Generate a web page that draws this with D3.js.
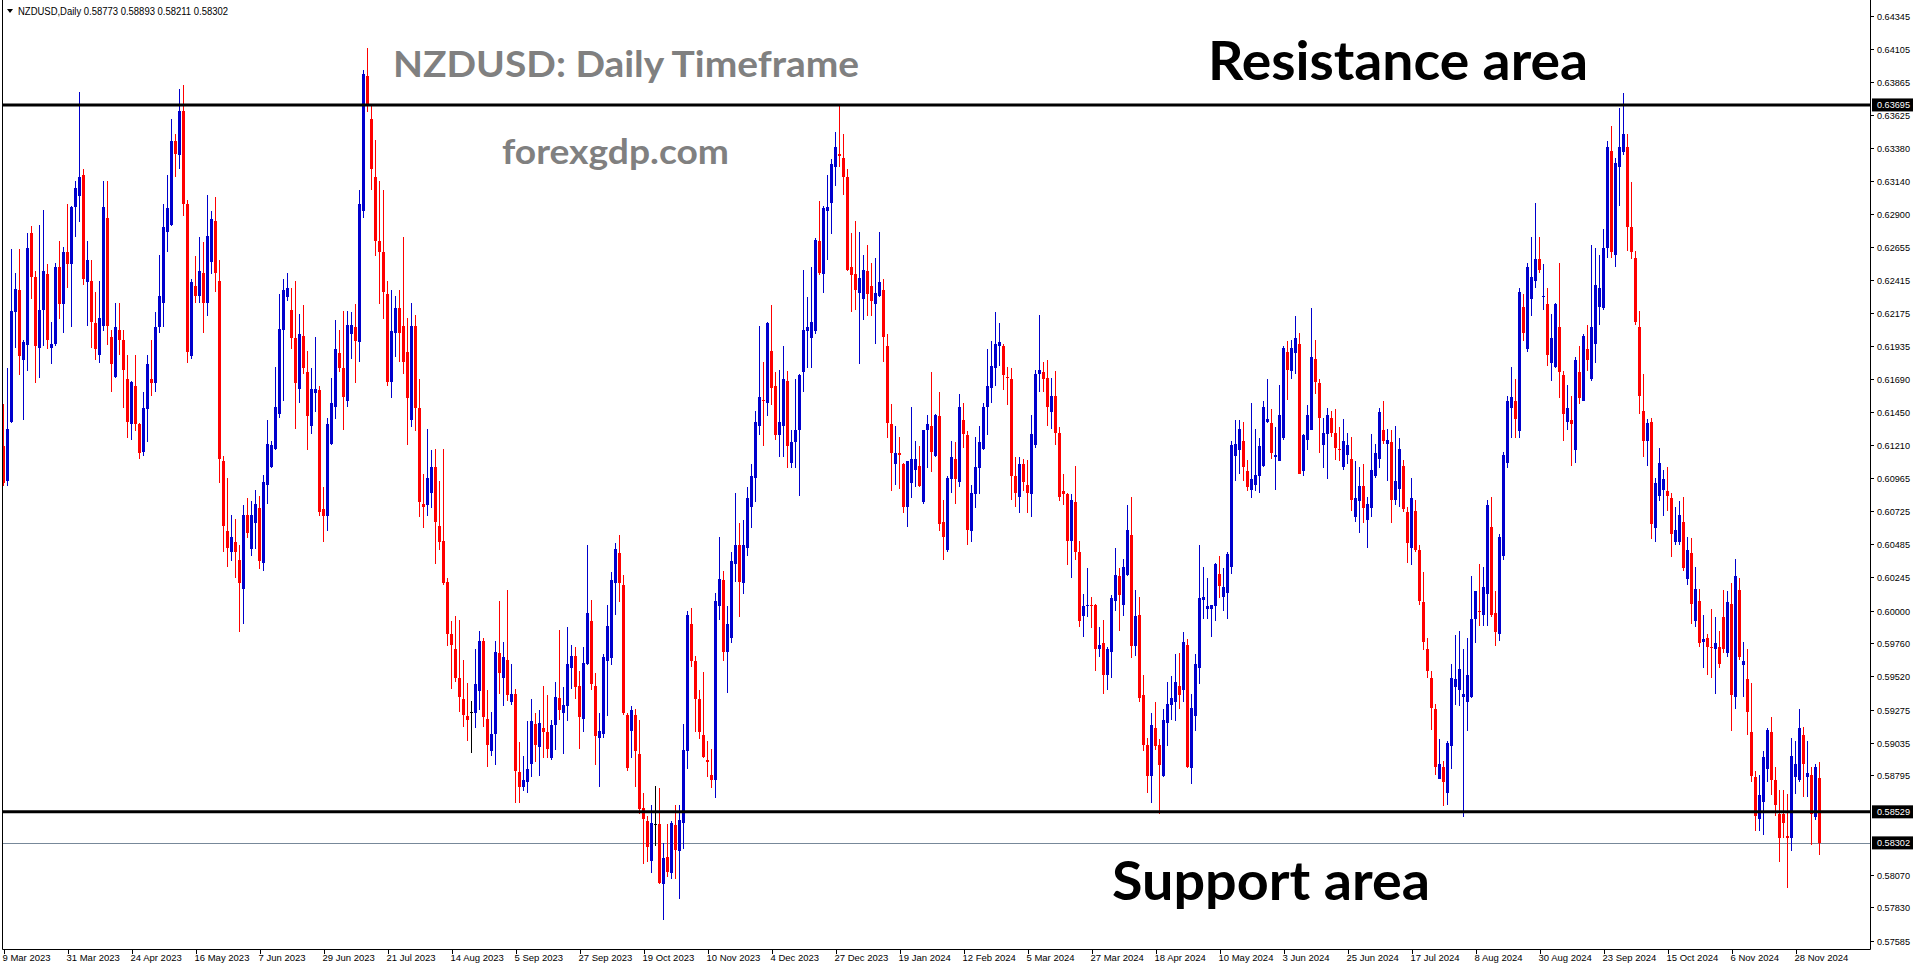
<!DOCTYPE html>
<html><head><meta charset="utf-8">
<script src="https://cdn.jsdelivr.net/npm/d3@7"></script>
<style>
html,body{margin:0;padding:0;background:#fff;overflow:hidden}
svg{display:block}
</style></head><body>
<svg id="c" width="1916" height="964"></svg>
<script>
// ---------------- DATA ----------------
const symbolText = "NZDUSD,Daily";
const lastQuote = [0.58773, 0.58893, 0.58211, 0.58302];
const titleText = "NZDUSD: Daily Timeframe";
const siteText = "forexgdp.com";
const resistanceText = "Resistance area";
const supportText = "Support area";

const opens = [.6120,.6095,.6138,.6218,.6234,.6183,.6194,.6276,.6244,.6192,
.6220,.6246,.6192,.6195,.6251,.6224,.6262,.6253,.6295,.6303,
.6318,.6240,.6241,.6210,.6187,.6208,.6287,.6200,.6171,.6205,
.6198,.6169,.6136,.6164,.6136,.6116,.6147,.6169,.6166,.6207,
.6225,.6277,.6282,.6343,.6333,.6365,.6297,.6186,.6237,.6230,
.6247,.6225,.6255,.6285,.6241,.6109,.6058,.6043,.6050,.6037,
.6016,.6070,.6045,.6064,.6075,.6035,.6092,.6105,.6118,.6144,
.6205,.6229,.6220,.6199,.6162,.6201,.6174,.6135,.6159,.6161,
.6074,.6069,.6122,.6149,.6188,.6177,.6153,.6202,.6207,.6196,
.6292,.6391,.6359,.6317,.6270,.6262,.6231,.6167,.6203,.6221,
.6208,.6189,.6139,.6208,.6148,.6078,.6077,.6086,.6105,.6062,
.6051,.6021,.5983,.5972,.5951,.5935,.5923,.5926,.5925,.5941,
.5978,.5921,.5897,.5910,.5969,.5951,.5964,.5933,.5939,.5882,
.5871,.5875,.5888,.5917,.5900,.5914,.5911,.5892,.5916,.5936,
.5925,.5930,.5958,.5967,.5945,.5921,.5961,.5992,.5945,.5907,
.5910,.5963,.5965,.6020,.6042,.6019,.5924,.5912,.5924,.5895,
.5856,.5846,.5817,.5844,.5844,.5800,.5820,.5808,.5843,.5824,
.5845,.5897,.5990,.5963,.5935,.5909,.5891,.5880,.5876,.6003,
.6022,.5970,.5980,.6034,.6048,.6020,.6046,.6076,.6097,.6135,
.6154,.6152,.6190,.6164,.6128,.6135,.6168,.6108,.6123,.6132,
.6174,.6204,.6199,.6204,.6270,.6246,.6292,.6298,.6324,.6334,
.6331,.6317,.6251,.6246,.6232,.6228,.6248,.6237,.6224,.6230,
.6234,.6193,.6136,.6107,.6115,.6107,.6076,.6093,.6103,.6106,
.6079,.6132,.6135,.6113,.6142,.6065,.6044,.6096,.6111,.6094,
.6139,.6128,.6058,.6085,.6104,.6118,.6149,.6163,.6177,.6193,
.6193,.6171,.6169,.6098,.6083,.6107,.6092,.6085,.6121,.6173,
.6174,.6170,.6145,.6157,.6130,.6087,.6085,.6051,.6079,.6043,
.5996,.6003,.60044,.6004,.5972,.5976,.5953,.5970,.6007,.6025,
.6004,.6026,.6055,.5974,.5997,.5938,.5902,.5879,.5914,.5902,
.5879,.5918,.5931,.5933,.5945,.5942,.5975,.5885,.5923,.5958,
.6008,.6001,.6001,.6003,.6027,.6010,.6013,.6032,.6113,.6117,
.6124,.6102,.6088,.6092,.6098,.6106,.6138,.6137,.6112,.6109,
.6126,.6189,.6175,.6188,.6195,.6102,.6125,.6132,.6184,.6166,
.6121,.6129,.6141,.6130,.6118,.6105,.6114,.6111,.6068,.6080,
.6091,.6066,.6075,.6098,.6111,.6132,.6122,.6123,.6081,.6089,
.6106,.6072,.6046,.6073,.6044,.6006,.5972,.5951,.5928,.5877,
.5886,.5867,.5901,.5944,.5942,.5937,.5933,.5937,.5994,.6000,
.5997,.6012,.6061,.5998,.5983,.6040,.6108,.6148,.6153,.6131,
.6222,.6191,.6228,.6241,.6257,.62295,.6224,.6181,.6178,.6207,
.6172,.6138,.6139,.6117,.6174,.6153,.6191,.6169,.6195,.6222,
.6221,.6265,.6336,.6260,.6324,.6335,.6339,.6280,.6258,.6207,
.6146,.6124,.6138,.6060,.6084,.6088,.6087,.6082,.6050,.6050,
.6065,.6023,.6042,.5992,.6007,.5977,.5980,.59732,.5972,.5973,
.5995,.5969,.6005,.5937,.6015,.5960,.5950,.5911,.5878,.5848,
.5860,.5884,.5911,.5876,.5851,.5851,.5835,.5834,.5878,.5876,
.5909,.5878,.5880,.5849,.58773];

const highs = [.6151,.6177,.6264,.6247,.6264,.6198,.6276,.6281,.6248,.6282,
.6293,.6253,.6211,.6254,.6270,.6266,.6297,.6296,.6314,.6379,
.6323,.6270,.6256,.6233,.6241,.6314,.6314,.6205,.6225,.6225,
.6205,.6187,.6168,.6187,.6137,.6160,.6187,.6198,.6218,.6260,
.6297,.6318,.6359,.6348,.6381,.6384,.6300,.6242,.6259,.6273,
.6269,.6304,.6292,.6302,.6256,.6113,.6097,.6070,.6067,.6048,
.6077,.6082,.6080,.6088,.6084,.6099,.6139,.6124,.6178,.6231,
.6242,.6247,.6236,.6241,.6217,.6223,.6190,.6177,.6200,.6164,
.6090,.6141,.6170,.6212,.6205,.6219,.6219,.6218,.6224,.6307,
.6395,.6411,.6369,.6344,.6314,.6307,.6241,.6234,.6230,.6234,
.6273,.6214,.6225,.6216,.6169,.6100,.6133,.6117,.6118,.6095,
.6118,.6024,.5992,.5996,.5993,.5964,.5947,.5934,.5972,.5985,
.5980,.5942,.5926,.5978,.6007,.5977,.6015,.5961,.5943,.5904,
.5894,.5919,.5935,.5925,.5927,.5945,.5938,.5920,.5948,.5986,
.5944,.5988,.5975,.5973,.5956,.5973,.6048,.6008,.5954,.5925,
.5968,.6004,.6028,.6049,.6055,.6026,.5925,.5930,.5928,.5920,
.5867,.5850,.5858,.5872,.5870,.5830,.5844,.5846,.5858,.5858,
.5917,.6000,.6002,.5967,.5942,.5955,.5905,.5899,.6013,.6054,
.6029,.6003,.6043,.6086,.6064,.6066,.6090,.6107,.6146,.6208,
.6182,.6211,.6223,.6174,.6176,.6193,.6175,.6132,.6169,.6173,
.6249,.6229,.6251,.6272,.6299,.6296,.6318,.6330,.6350,.6369,
.6348,.6323,.6276,.6285,.6277,.6260,.6267,.6254,.6258,.6277,
.6242,.6202,.6151,.6135,.6127,.6108,.6109,.6149,.6124,.6120,
.6132,.6143,.6174,.6144,.6160,.6081,.6098,.6124,.6123,.6158,
.6152,.6131,.6092,.6127,.6135,.6152,.6191,.6197,.6218,.6210,
.6195,.6178,.6177,.6112,.6112,.6111,.6110,.6143,.6176,.6216,
.6182,.6183,.6170,.6175,.6134,.6100,.6086,.6085,.6106,.6051,
.6012,.6031,.6010,.6005,.5988,.5993,.5973,.6011,.6046,.6031,
.6038,.6077,.6083,.6015,.6010,.5953,.5907,.5925,.5933,.5906,
.5928,.5948,.5952,.5968,.5969,.5984,.5979,.5939,.5968,.6048,
.6032,.6024,.60044,.6035,.6040,.6031,.6043,.6124,.6139,.6139,
.6138,.6110,.6152,.6133,.6126,.6153,.6169,.6147,.6134,.6165,
.6193,.6197,.6198,.6215,.6203,.6129,.6150,.6221,.6198,.6169,
.6141,.6148,.6146,.6147,.6134,.6140,.6130,.6127,.6109,.6105,
.6107,.6083,.6129,.6122,.6148,.6153,.6133,.6132,.6135,.6126,
.6110,.6076,.6097,.6081,.6048,.6028,.5980,.5956,.5932,.5906,
.5890,.5905,.5961,.5982,.5985,.5972,.5980,.6025,.6014,.6034,
.6032,.6081,.6083,.6014,.6056,.6116,.6157,.6178,.6169,.6236,
.6231,.6254,.6273,.6298,.6273,.6253,.6236,.6217,.6225,.6254,
.6175,.6165,.6157,.6185,.6193,.6202,.6209,.6267,.6265,.6260,
.6279,.6343,.6354,.6331,.6367,.6378,.6348,.6313,.6263,.6219,
.6173,.6140,.6141,.6097,.6119,.6103,.6105,.6086,.6076,.6080,
.6083,.6054,.6053,.6032,.6016,.5997,.5983,.6001,.5995,.5985,
.6015,.6014,.6020,.6038,.6024,.5977,.5972,.5947,.5883,.5880,
.5897,.5914,.5922,.5886,.5869,.5869,.5866,.5907,.5905,.5928,
.5915,.5905,.5886,.5888,.58893];

const lows = [.6091,.6091,.6137,.6192,.6172,.6139,.6175,.6228,.6166,.6170,
.6193,.6191,.6180,.6193,.6213,.6203,.6236,.6207,.6273,.6284,
.6238,.6208,.6192,.6183,.6181,.6204,.6194,.6160,.6170,.6187,
.6148,.6126,.6125,.6131,.6111,.6113,.6123,.6157,.6160,.6203,
.6207,.6262,.6281,.6317,.6323,.6288,.6181,.6184,.6225,.6225,
.6203,.6215,.6246,.6233,.6093,.6043,.6032,.6036,.6024,.5984,
.5990,.6053,.6040,.6045,.6030,.6029,.6078,.6104,.6117,.6141,
.6153,.6226,.6191,.6133,.6152,.6173,.6117,.6129,.6145,.6069,
.6050,.6058,.6121,.6140,.6174,.6132,.6149,.6184,.6166,.6182,
.6287,.6364,.6307,.6259,.6224,.6213,.6164,.6155,.6185,.6182,
.6173,.6121,.6134,.6131,.6068,.6060,.6069,.6075,.6034,.6044,
.6019,.5974,.5943,.5948,.5926,.5915,.5905,.5896,.5914,.5927,
.5915,.5886,.5894,.5887,.5939,.5930,.5934,.5931,.5859,.5859,
.5868,.5867,.5878,.5889,.5879,.5892,.5892,.5891,.5898,.5920,
.5895,.5919,.5943,.5935,.5899,.5911,.5960,.5942,.5887,.5871,
.5907,.5923,.5960,.5997,.6006,.5924,.5883,.5892,.5871,.5851,
.5815,.5816,.5808,.5828,.5800,.5774,.5805,.5804,.5804,.5789,
.5826,.5884,.5959,.5911,.5906,.5892,.5878,.5870,.5863,.5993,
.5963,.5940,.5976,.6021,.5995,.6012,.6040,.6060,.6079,.6128,
.6120,.6142,.6150,.6125,.6112,.6112,.6104,.6104,.6104,.6084,
.6160,.6177,.6177,.6202,.6245,.6232,.6256,.6275,.6310,.6324,
.6304,.6248,.6218,.6220,.6180,.6212,.6215,.6215,.6195,.6229,
.6182,.6126,.6087,.6092,.6089,.6071,.6061,.6082,.6090,.6090,
.6078,.6104,.6101,.6112,.6058,.6037,.6043,.6086,.6078,.6090,
.6119,.6048,.6050,.6075,.6085,.6117,.6128,.6152,.6164,.6179,
.6161,.6150,.6081,.6076,.6071,.6087,.6071,.6068,.6119,.6160,
.6160,.6135,.6133,.6121,.6080,.6077,.6033,.6024,.6037,.5988,
.5981,.5995,.5987,.5956,.5966,.5939,.5942,.5951,.6000,.5985,
.5996,.6025,.5965,.5967,.5933,.5897,.5867,.5859,.5898,.5851,
.5878,.5901,.5920,.5919,.5928,.5933,.5885,.5873,.5912,.5946,
.5994,.5994,.5981,.5992,.6009,.6000,.5994,.6027,.6095,.6100,
.6095,.6087,.6082,.6087,.6086,.6105,.6137,.6111,.6088,.6109,
.6125,.6154,.6169,.6173,.6100,.6098,.6117,.6132,.6158,.6115,
.6104,.6096,.6127,.6110,.6109,.6103,.6107,.6073,.6065,.6057,
.6064,.6046,.6068,.6097,.6104,.6122,.6095,.6064,.6077,.6076,
.6072,.6035,.6033,.6043,.6004,.5971,.5951,.5913,.5880,.5877,
.5857,.5858,.5884,.5931,.5930,.5849,.5912,.5936,.5976,.5989,
.5989,.5989,.5995,.5974,.5978,.6037,.6104,.6126,.6126,.6126,
.6197,.6189,.6215,.6236,.6247,.6220,.6179,.6168,.6177,.6155,
.6124,.6132,.6106,.6108,.6151,.6153,.6175,.6168,.6181,.6209,
.6220,.6258,.6258,.6251,.6296,.6333,.6263,.6257,.6209,.6144,
.6112,.6106,.6052,.6050,.6080,.6069,.6073,.6039,.6048,.6048,
.6029,.6019,.5990,.5988,.5973,.5958,.5953,.5951,.5939,.5958,
.5969,.5966,.5912,.5928,.5964,.5937,.5909,.5875,.5839,.5839,
.5836,.5875,.5865,.5850,.5816,.5834,.5797,.5824,.5866,.5875,
.5864,.5864,.5829,.5847,.58211];

const closes = [.6093,.6133,.6219,.6235,.6186,.6196,.6265,.6244,.6193,.6220,
.6248,.6198,.6195,.6251,.6224,.6262,.6253,.6295,.6309,.6317,
.6242,.6256,.6211,.6191,.6214,.6295,.6208,.6180,.6207,.6198,
.6176,.6138,.6167,.6136,.6115,.6148,.6180,.6166,.6207,.6230,
.6280,.6294,.6343,.6334,.6365,.6297,.6189,.6240,.6230,.6248,
.6225,.6274,.6286,.6247,.6111,.6062,.6046,.6054,.6043,.6020,
.6070,.6057,.6070,.6078,.6036,.6094,.6122,.6121,.6149,.6206,
.6234,.6236,.6199,.6166,.6202,.6177,.6142,.6162,.6162,.6072,
.6069,.6136,.6152,.6191,.6177,.6156,.6209,.6209,.6197,.6297,
.6392,.6369,.6323,.6270,.6262,.6233,.6167,.6204,.6221,.6203,
.6182,.6155,.6208,.6148,.6079,.6076,.6097,.6105,.6065,.6050,
.6020,.5983,.5975,.5951,.5937,.5924,.5920,.5926,.5946,.5978,
.5922,.5902,.5910,.5970,.5954,.5966,.5938,.5939,.5883,.5871,
.5876,.5884,.5919,.5902,.5918,.5911,.5899,.5916,.5937,.5927,
.5931,.5961,.5967,.5944,.5922,.5962,.5998,.5946,.5908,.5912,
.5966,.5989,.6022,.6045,.6020,.5925,.5885,.5927,.5897,.5855,
.5848,.5827,.5845,.5844,.5801,.5819,.5809,.5845,.5825,.5847,
.5898,.5997,.5963,.5935,.5911,.5893,.5889,.5876,.6007,.6023,
.5970,.5990,.6036,.6048,.6021,.6048,.6082,.6098,.6138,.6156,
.6153,.6210,.6163,.6128,.6138,.6169,.6120,.6123,.6132,.6172,
.6205,.6207,.6211,.6271,.6247,.6294,.6295,.6326,.6339,.6332,
.6317,.6249,.6245,.6234,.6243,.6249,.6231,.6226,.6232,.6240,
.6200,.6137,.6115,.6115,.6114,.6076,.6109,.6111,.6111,.6091,
.6132,.6136,.6116,.6143,.6063,.6054,.6097,.6112,.6096,.6149,
.6129,.6059,.6086,.6105,.6123,.6149,.6164,.6179,.6195,.6196,
.6172,.6170,.6098,.6086,.6107,.6094,.6086,.6129,.6173,.6176,
.6169,.6149,.6157,.6130,.6083,.6085,.6051,.6081,.6043,.5992,
.6003,.6004,.60037,.5972,.5975,.5953,.5972,.6009,.6026,.6011,
.6032,.6059,.5974,.5996,.5936,.5902,.5879,.5916,.5901,.5887,
.5920,.5932,.5936,.5948,.5938,.5977,.5886,.5929,.5961,.6009,
.6010,.6003,.60037,.6034,.6018,.6017,.6041,.6121,.6122,.6133,
.6105,.6090,.6096,.6099,.6120,.6149,.6140,.6115,.6114,.6143,
.6192,.6176,.6192,.6199,.6100,.6128,.6143,.6185,.6167,.6141,
.6130,.6143,.6130,.6119,.6117,.6124,.6121,.6081,.6082,.6091,
.6075,.6078,.6103,.6115,.6145,.6124,.6125,.6081,.6095,.6118,
.6074,.6049,.6082,.6044,.6007,.5977,.5956,.5929,.5886,.5888,
.5875,.5903,.5951,.5950,.5957,.5939,.5953,.5994,.6014,.5999,
.6017,.6077,.5997,.5984,.6054,.6114,.6153,.6156,.6140,.6233,
.6203,.6251,.6244,.6257,.6249,.6230,.6187,.6199,.6224,.6174,
.6144,.6148,.6136,.6183,.6155,.6201,.6183,.6207,.6238,.6236,
.6265,.6339,.6262,.6327,.6339,.6348,.6280,.6262,.6211,.6157,
.6124,.6137,.6063,.6093,.6108,.6096,.6084,.6056,.6059,.6070,
.6031,.6044,.6005,.6016,.5976,.5979,.5973,.59724,.5976,.5961,
.5972,.6006,.5938,.6025,.5966,.5963,.5926,.5879,.5850,.5865,
.5893,.5913,.5876,.5858,.5834,.5845,.5834,.5894,.5888,.5914,
.5888,.5881,.5851,.5886,.58302];

const dateLabels = ["9 Mar 2023","31 Mar 2023","24 Apr 2023","16 May 2023","7 Jun 2023","29 Jun 2023","21 Jul 2023","14 Aug 2023","5 Sep 2023","27 Sep 2023","19 Oct 2023","10 Nov 2023","4 Dec 2023","27 Dec 2023","19 Jan 2024","12 Feb 2024","5 Mar 2024","27 Mar 2024","18 Apr 2024","10 May 2024","3 Jun 2024","25 Jun 2024","17 Jul 2024","8 Aug 2024","30 Aug 2024","23 Sep 2024","15 Oct 2024","6 Nov 2024","28 Nov 2024"];
const barsPerDateLabel = 16;

const priceTicks = [0.64345,0.64105,0.63865,0.63625,0.63380,0.63140,0.62900,0.62655,0.62415,0.62175,0.61935,0.61690,0.61450,0.61210,0.60965,0.60725,0.60485,0.60245,0.60000,0.59760,0.59520,0.59275,0.59035,0.58795,0.58070,0.57830,0.57585];
const priceDomain = [0.57585, 0.64345];

const resistanceLevel = 0.63695;
const supportLevel = 0.58529;
const currentPrice = 0.58302;

// ---------------- DRAW ----------------
const N = Math.min(opens.length, highs.length, lows.length, closes.length);
const svg = d3.select("#c");
const plotL = 2, plotR = 1870, plotB = 949;
const bull = "#0000cd", bear = "#ff0000";
const axisFont = "'Liberation Sans', Arial, sans-serif";
const bigFont = "Lato, 'Open Sans', sans-serif";

const x = d3.scaleBand().domain(d3.range(N)).range([1.5, 1.5 + 4 * N]);
const cx = i => x(i) + x.bandwidth() / 2;
const y = d3.scaleLinear().domain(priceDomain).range([941, 16]);

const data = d3.range(N).map(i => ({i, o: opens[i], h: highs[i], l: lows[i], c: closes[i]}));
const col = d => d.c > d.o ? bull : (d.c < d.o ? bear : "#000");

// current price line (behind candles)
svg.append("line")
  .attr("x1", plotL).attr("x2", plotR)
  .attr("y1", Math.round(y(currentPrice)) + 0.5).attr("y2", Math.round(y(currentPrice)) + 0.5)
  .attr("stroke", "#778899").attr("stroke-width", 1);

const gC = svg.append("g").attr("shape-rendering", "crispEdges");
gC.selectAll("line.wick").data(data).join("line")
  .attr("class", "wick")
  .attr("x1", d => cx(d.i)).attr("x2", d => cx(d.i))
  .attr("y1", d => y(d.h)).attr("y2", d => y(d.l))
  .attr("stroke", col).attr("stroke-width", 1);
gC.selectAll("rect.body").data(data).join("rect")
  .attr("class", "body")
  .attr("x", d => cx(d.i) - 1.5).attr("width", 3)
  .attr("y", d => Math.min(y(d.o), y(d.c)))
  .attr("height", d => Math.max(1, Math.abs(y(d.o) - y(d.c))))
  .attr("fill", col);

// horizontal support / resistance lines
[resistanceLevel, supportLevel].forEach(v => {
  svg.append("line")
    .attr("x1", plotL).attr("x2", plotR)
    .attr("y1", y(v)).attr("y2", y(v))
    .attr("stroke", "#000").attr("stroke-width", 3);
});

// frame
svg.append("path")
  .attr("d", `M${plotL + 0.5},0 V${plotB + 0.5} H${plotR + 0.5} V0`)
  .attr("fill", "none").attr("stroke", "#000").attr("stroke-width", 1);

// price axis
const gY = svg.append("g").attr("font-family", axisFont).attr("font-size", 9.5).attr("fill", "#000");
priceTicks.forEach(v => {
  const yy = Math.round(y(v)) + 0.5;
  gY.append("line").attr("x1", plotR).attr("x2", plotR + 4).attr("y1", yy).attr("y2", yy)
    .attr("stroke", "#000").attr("shape-rendering", "crispEdges");
  gY.append("text").attr("x", 1877).attr("y", yy).attr("dy", "0.35em")
    .attr("textLength", 33).attr("lengthAdjust", "spacingAndGlyphs").text(v.toFixed(5));
});
// price boxes
[resistanceLevel, supportLevel, currentPrice].forEach(v => {
  const yy = y(v);
  gY.append("rect").attr("x", plotR + 2).attr("y", yy - 6.5).attr("width", 41).attr("height", 13).attr("fill", "#000");
  gY.append("text").attr("x", 1877).attr("y", yy).attr("dy", "0.35em").attr("fill", "#fff")
    .attr("textLength", 33).attr("lengthAdjust", "spacingAndGlyphs").text(v.toFixed(5));
});

// date axis
const gX = svg.append("g").attr("font-family", axisFont).attr("font-size", 9.5).attr("fill", "#000");
dateLabels.forEach((lab, k) => {
  const xi = cx(k * barsPerDateLabel);
  gX.append("line").attr("x1", Math.round(xi) + 0.5).attr("x2", Math.round(xi) + 0.5)
    .attr("y1", plotB).attr("y2", plotB + 5).attr("stroke", "#000").attr("shape-rendering", "crispEdges");
  gX.append("text").attr("x", xi - 1).attr("y", 961).text(lab);
});

// header
svg.append("path").attr("d", "M7,9 L13,9 L10,13 Z").attr("fill", "#000");
svg.append("text").attr("x", 18).attr("y", 15)
  .attr("font-family", axisFont).attr("font-size", 10).attr("fill", "#000")
  .attr("textLength", 210).attr("lengthAdjust", "spacingAndGlyphs")
  .text(symbolText + "  " + lastQuote.map(v => v.toFixed(5)).join(" "));

// annotations
function label(t, x0, base, size, w, fill) {
  svg.append("text").attr("x", x0).attr("y", base)
    .attr("font-family", bigFont).attr("font-weight", 700).attr("font-size", size)
    .attr("fill", fill).attr("textLength", w).attr("lengthAdjust", "spacingAndGlyphs").text(t);
}
label(titleText, 393, 77, 37, 466, "#808080");
label(siteText, 502, 164, 35, 227, "#808080");
label(resistanceText, 1208, 80, 54, 380, "#000");
label(supportText, 1112, 900, 54, 318, "#000");
</script>
</body></html>
